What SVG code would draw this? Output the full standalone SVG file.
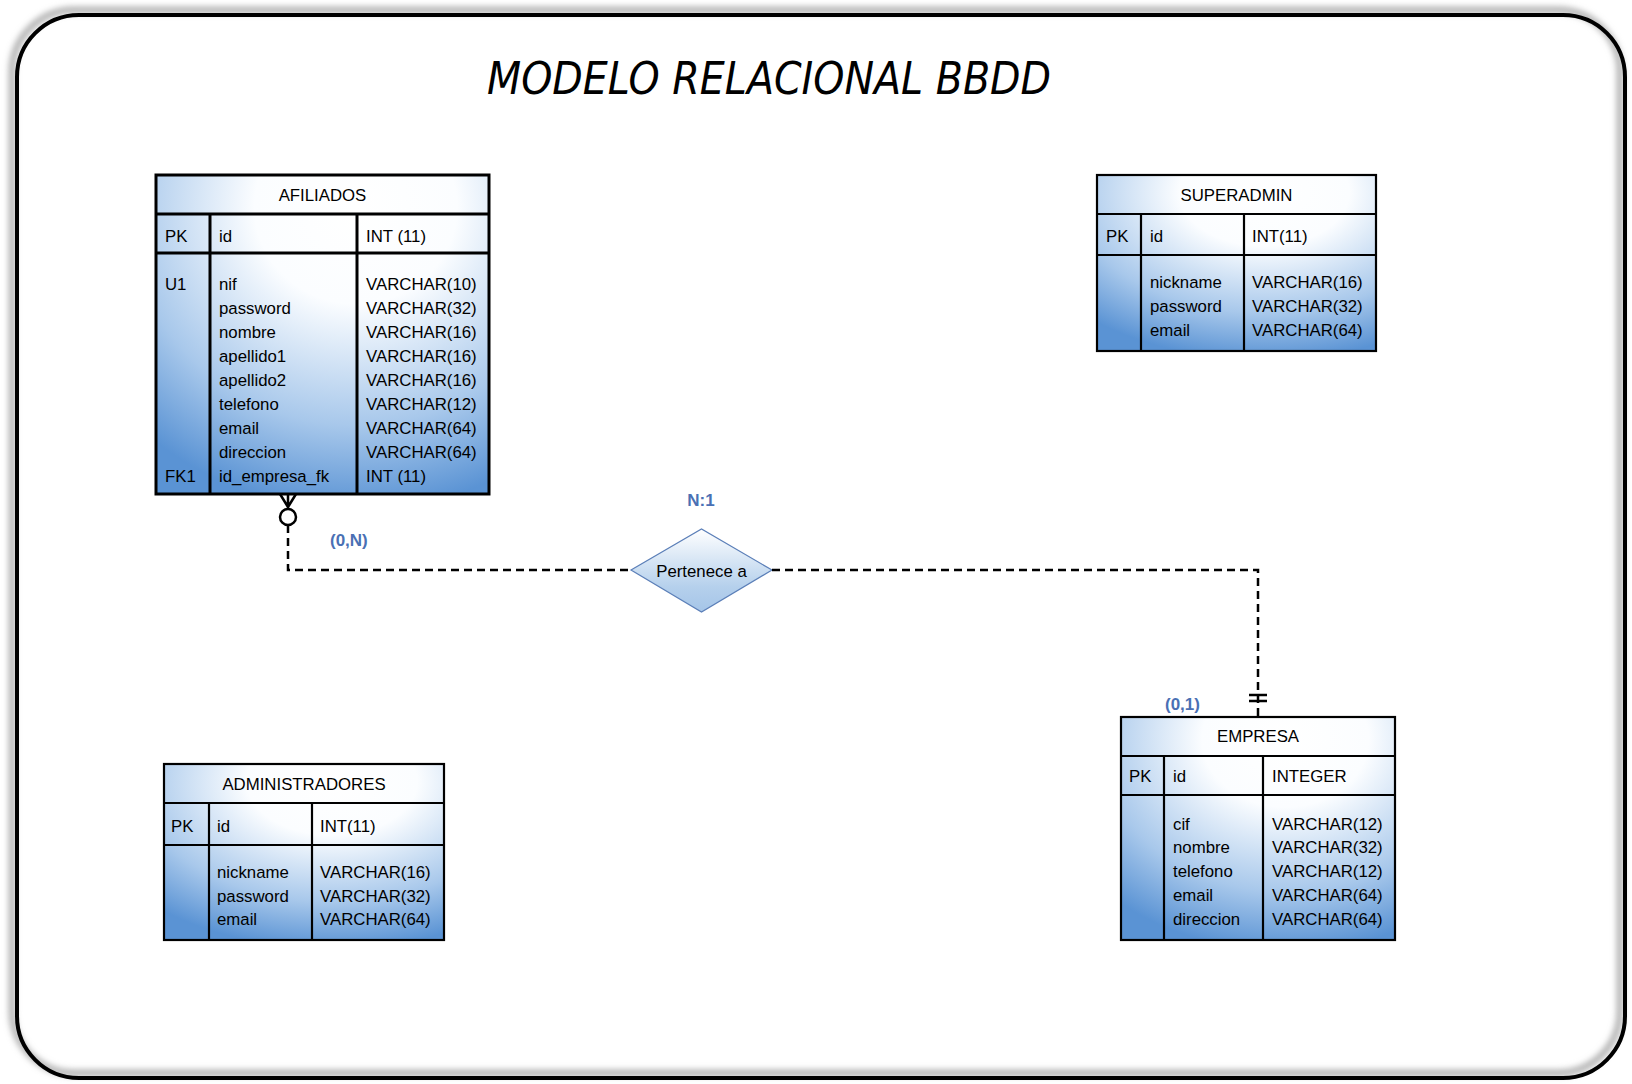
<svg xmlns="http://www.w3.org/2000/svg" width="1632" height="1084" viewBox="0 0 1632 1084">
<style>
.tbl{fill:url(#tg);stroke:#000;stroke-width:2.2}
.ln{stroke:#000;stroke-width:2.2;fill:none}
.tbl3{fill:url(#tg);stroke:#000;stroke-width:3}
.ln3{stroke:#000;stroke-width:3;fill:none}
text{font-family:"Liberation Sans",Arial,sans-serif;font-size:16.8px;fill:#000}
.ttl{text-anchor:middle}
.lbl{font-weight:bold;font-size:17px;fill:#4a70b4}
.conn{stroke:#000;stroke-width:2.5;fill:none;stroke-dasharray:8 5}
.mk{stroke:#000;stroke-width:2.5;fill:none}
.title{font-family:"DejaVu Sans",sans-serif;font-style:italic;font-size:44px}
</style>
<defs>
<radialGradient id="tg" cx="0.6" cy="0.1" r="0.95" fx="0.6" fy="0.1">
<stop offset="0" stop-color="#ffffff"/>
<stop offset="0.32" stop-color="#fbfdff"/>
<stop offset="0.72" stop-color="#a8c8eb"/>
<stop offset="1" stop-color="#5a93d4"/>
</radialGradient>
<linearGradient id="dg" x1="0" y1="0" x2="0" y2="1">
<stop offset="0" stop-color="#ffffff"/>
<stop offset="0.7" stop-color="#b5d0ec"/>
<stop offset="1" stop-color="#a5c5e8"/>
</linearGradient>
<filter id="blur" x="-5%" y="-5%" width="110%" height="110%">
<feGaussianBlur stdDeviation="3"/>
</filter>
</defs>

<g id="background">
<rect x="12" y="10" width="1608" height="1063" rx="62" ry="62" fill="none" stroke="#a8a8a8" stroke-width="6" filter="url(#blur)"/>
<rect x="17" y="15" width="1608" height="1063" rx="62" ry="62" fill="none" stroke="#000" stroke-width="4"/>
<text class="title" x="769" y="94" text-anchor="middle" textLength="564" lengthAdjust="spacingAndGlyphs">MODELO RELACIONAL BBDD</text>
</g>

<g id="afiliados">
<rect class="tbl3" x="156" y="175" width="333" height="319"/>
<line class="ln3" x1="156" y1="214" x2="489" y2="214"/>
<line class="ln3" x1="156" y1="253" x2="489" y2="253"/>
<line class="ln3" x1="210" y1="214" x2="210" y2="494"/>
<line class="ln3" x1="357" y1="214" x2="357" y2="494"/>
<text class="ttl" x="322.5" y="201">AFILIADOS</text>
<text x="165" y="242">PK</text>
<text x="219" y="242">id</text>
<text x="366" y="242">INT (11)</text>
<text x="165" y="290">U1</text>
<text x="165" y="482">FK1</text>
<text x="219" y="290">nif</text>
<text x="219" y="314">password</text>
<text x="219" y="338">nombre</text>
<text x="219" y="362">apellido1</text>
<text x="219" y="386">apellido2</text>
<text x="219" y="410">telefono</text>
<text x="219" y="434">email</text>
<text x="219" y="458">direccion</text>
<text x="219" y="482">id_empresa_fk</text>
<text x="366" y="290">VARCHAR(10)</text>
<text x="366" y="314">VARCHAR(32)</text>
<text x="366" y="338">VARCHAR(16)</text>
<text x="366" y="362">VARCHAR(16)</text>
<text x="366" y="386">VARCHAR(16)</text>
<text x="366" y="410">VARCHAR(12)</text>
<text x="366" y="434">VARCHAR(64)</text>
<text x="366" y="458">VARCHAR(64)</text>
<text x="366" y="482">INT (11)</text>
</g>

<g id="superadmin">
<rect class="tbl" x="1097" y="175" width="279" height="176"/>
<line class="ln" x1="1097" y1="214" x2="1376" y2="214"/>
<line class="ln" x1="1097" y1="255" x2="1376" y2="255"/>
<line class="ln" x1="1141" y1="214" x2="1141" y2="351"/>
<line class="ln" x1="1244" y1="214" x2="1244" y2="351"/>
<text class="ttl" x="1236.5" y="201">SUPERADMIN</text>
<text x="1106" y="242">PK</text>
<text x="1150" y="242">id</text>
<text x="1252" y="242">INT(11)</text>
<text x="1150" y="288">nickname</text>
<text x="1150" y="312">password</text>
<text x="1150" y="336">email</text>
<text x="1252" y="288">VARCHAR(16)</text>
<text x="1252" y="312">VARCHAR(32)</text>
<text x="1252" y="336">VARCHAR(64)</text>
</g>

<g id="administradores">
<rect class="tbl" x="164" y="764" width="280" height="176"/>
<line class="ln" x1="164" y1="803" x2="444" y2="803"/>
<line class="ln" x1="164" y1="845" x2="444" y2="845"/>
<line class="ln" x1="209" y1="803" x2="209" y2="940"/>
<line class="ln" x1="312" y1="803" x2="312" y2="940"/>
<text class="ttl" x="304" y="790">ADMINISTRADORES</text>
<text x="171" y="832">PK</text>
<text x="217" y="832">id</text>
<text x="320" y="832">INT(11)</text>
<text x="217" y="878">nickname</text>
<text x="217" y="902">password</text>
<text x="217" y="925">email</text>
<text x="320" y="878">VARCHAR(16)</text>
<text x="320" y="902">VARCHAR(32)</text>
<text x="320" y="925">VARCHAR(64)</text>
</g>

<g id="empresa">
<rect class="tbl" x="1121" y="717" width="274" height="223"/>
<line class="ln" x1="1121" y1="756" x2="1395" y2="756"/>
<line class="ln" x1="1121" y1="795" x2="1395" y2="795"/>
<line class="ln" x1="1164" y1="756" x2="1164" y2="940"/>
<line class="ln" x1="1263" y1="756" x2="1263" y2="940"/>
<text class="ttl" x="1258" y="742">EMPRESA</text>
<text x="1129" y="782">PK</text>
<text x="1173" y="782">id</text>
<text x="1272" y="782">INTEGER</text>
<text x="1173" y="830">cif</text>
<text x="1173" y="853">nombre</text>
<text x="1173" y="877">telefono</text>
<text x="1173" y="901">email</text>
<text x="1173" y="925">direccion</text>
<text x="1272" y="830">VARCHAR(12)</text>
<text x="1272" y="853">VARCHAR(32)</text>
<text x="1272" y="877">VARCHAR(12)</text>
<text x="1272" y="901">VARCHAR(64)</text>
<text x="1272" y="925">VARCHAR(64)</text>
</g>

<g id="pertenece_a">
<polygon points="631,570 701.5,529 772,570 701.5,612" fill="url(#dg)" stroke="#5b7fb8" stroke-width="1.2"/>
<text x="701.5" y="577" text-anchor="middle" font-size="17">Pertenece a</text>
</g>

<g id="connectors">
<path class="conn" d="M288,525 V570 H631"/>
<path class="conn" d="M772,570 H1258 V717"/>
<path class="mk" d="M280,494 L288,507 L296,494 M288,494 V509"/>
<circle cx="288" cy="517" r="8" fill="#fff" stroke="#000" stroke-width="2.5"/>
<path class="mk" d="M1249,695 H1267 M1249,701 H1267"/>
<text class="lbl" x="701" y="506" text-anchor="middle">N:1</text>
<text class="lbl" x="330" y="546">(0,N)</text>
<text class="lbl" x="1165" y="710">(0,1)</text>
</g>
</svg>
